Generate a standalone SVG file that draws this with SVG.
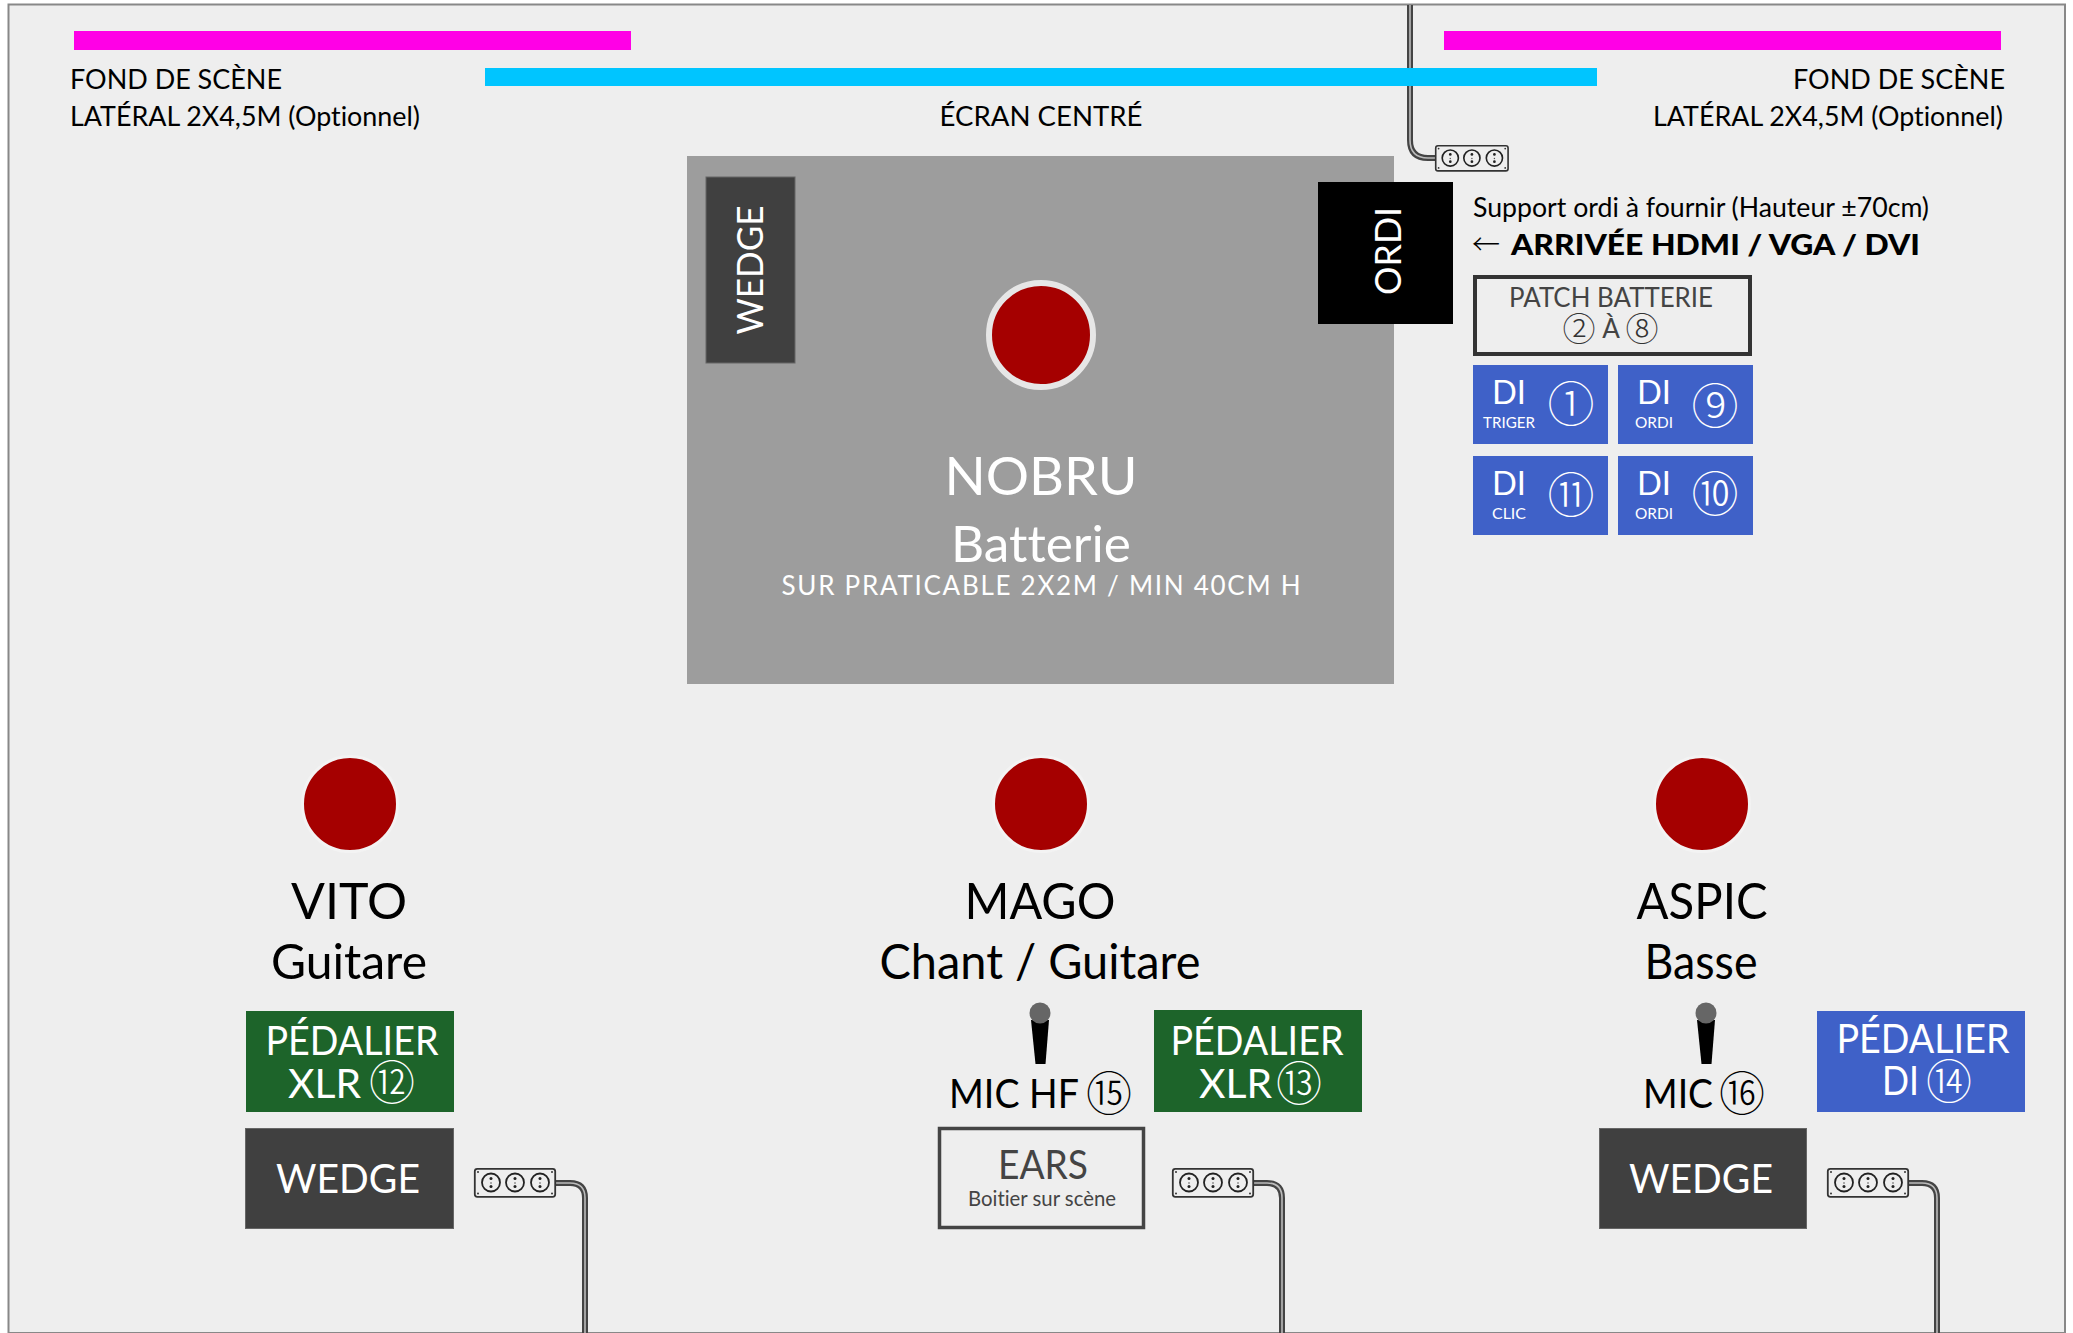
<svg xmlns="http://www.w3.org/2000/svg" xmlns:xlink="http://www.w3.org/1999/xlink" width="2073" height="1333" viewBox="0 0 2073 1333">
<style>
text{font-family:"Lato","Noto Sans",sans-serif;fill:#000;font-variant-ligatures:none}
.w{fill:#fff}.g{fill:#444}
.m{text-anchor:middle}.e{text-anchor:end}
.n{font-family:"Noto Sans CJK JP",sans-serif;text-anchor:middle;font-weight:300}
.cable-o{fill:none;stroke:#444;stroke-width:6}
.cable-i{fill:none;stroke:#bbb;stroke-width:1.6}
.seat{fill:#a50000;stroke:#f3f3f3;stroke-width:3}
.blue{fill:#3f61c8}.green{fill:#1d642a}.wedge{fill:#404040;stroke:#666;stroke-width:1}
</style>
<defs>
<g id="socket"><circle r="9" fill="none" stroke="#222" stroke-width="1.8"/><circle cy="-4" r="1.5" fill="#222"/><circle cy="0.5" r="0.8" fill="#555"/><circle cy="4" r="1.5" fill="#222"/></g>
<g id="strip"><rect x="0.8" y="0.8" width="80.4" height="28" rx="2.5" fill="#eee" stroke="#333" stroke-width="1.8"/><circle cx="4" cy="4" r="1" fill="#333"/><circle cx="78" cy="4" r="1" fill="#333"/><circle cx="4" cy="25.5" r="1" fill="#333"/><circle cx="78" cy="25.5" r="1" fill="#333"/><use xlink:href="#socket" href="#socket" x="17" y="14.5"/><use xlink:href="#socket" href="#socket" x="41" y="14.5"/><use xlink:href="#socket" href="#socket" x="66" y="14.5"/></g>
<g id="mic"><path d="M-9 7 L9 7 L5.500 51 L-4.500 51 Z" fill="#000"/><ellipse cx="0" cy="0" rx="10.500" ry="10.500" fill="#666"/></g>
</defs>
<rect id="outside" width="2073" height="1333" fill="#fff"/>
<g id="stage"><path d="M8.500 1333V4.500H2065V1333Z" fill="#eeeeee" stroke="#888" stroke-width="2"/></g>

<g id="connectors">
<path class="cable-o" d="M1410 5V140Q1410 158 1428 158H1436"/><path class="cable-i" d="M1410 5V140Q1410 158 1428 158H1436"/>
<path class="cable-o" d="M555 1183H570Q585 1183 585 1198V1333"/><path class="cable-i" d="M555 1183H570Q585 1183 585 1198V1333"/>
<path class="cable-o" d="M1253 1183H1267Q1282 1183 1282 1198V1333"/><path class="cable-i" d="M1253 1183H1267Q1282 1183 1282 1198V1333"/>
<path class="cable-o" d="M1908 1183H1922Q1937 1183 1937 1198V1333"/><path class="cable-i" d="M1908 1183H1922Q1937 1183 1937 1198V1333"/>
</g>

<g id="fond-gauche"><rect x="74" y="31" width="557" height="19" fill="#ff00e6"/>
<text x="70" y="89" font-size="26" textLength="212" lengthAdjust="spacingAndGlyphs">FOND DE SCÈNE</text>
<text x="70" y="126" font-size="26" textLength="350" lengthAdjust="spacingAndGlyphs">LATÉRAL 2X4,5M (Optionnel)</text></g>
<g id="fond-droit"><rect x="1444" y="31" width="557" height="19" fill="#ff00e6"/>
<text x="2005" y="89" font-size="26" class="e" textLength="212" lengthAdjust="spacingAndGlyphs">FOND DE SCÈNE</text>
<text x="2003" y="126" font-size="26" class="e" textLength="350" lengthAdjust="spacingAndGlyphs">LATÉRAL 2X4,5M (Optionnel)</text></g>
<g id="ecran"><rect x="485" y="68" width="1112" height="18" fill="#00c5ff"/>
<text x="1041" y="126" font-size="26" class="m" textLength="203" lengthAdjust="spacingAndGlyphs">ÉCRAN CENTRÉ</text></g>

<g id="nobru"><rect x="687" y="156" width="707" height="528" fill="#9d9d9d"/>
<circle cx="1041" cy="335" r="52" fill="#a50000" stroke="#e6e6e6" stroke-width="6"/>
<text x="1041" y="495" font-size="52" class="m w" textLength="193" lengthAdjust="spacingAndGlyphs">NOBRU</text>
<text x="1041" y="562" font-size="50" class="m w" textLength="180" lengthAdjust="spacingAndGlyphs">Batterie</text>
<text x="1041" y="595" font-size="26" class="m w" textLength="519" lengthAdjust="spacing">SUR PRATICABLE 2X2M / MIN 40CM H</text></g>
<g id="wedge-batterie"><rect x="706" y="177" width="89" height="186" class="wedge"/>
<text transform="translate(763 270) rotate(-90)" font-size="36" class="m w" textLength="129" lengthAdjust="spacingAndGlyphs">WEDGE</text></g>
<g id="ordi"><rect x="1318" y="182" width="135" height="142" fill="#000"/>
<text transform="translate(1401 251) rotate(-90)" font-size="36" class="m w" textLength="88" lengthAdjust="spacingAndGlyphs">ORDI</text></g>
<g id="multi-haut"><use xlink:href="#strip" href="#strip" transform="translate(1435 145) scale(.9)"/></g>

<g id="support"><text x="1473" y="217" font-size="27" textLength="456" lengthAdjust="spacingAndGlyphs">Support ordi à fournir (Hauteur ±70cm)</text>
<text x="1472" y="255" font-size="28" class="n" style="text-anchor:start">←</text>
<text x="1511" y="255" font-size="29" font-weight="900" textLength="409" lengthAdjust="spacingAndGlyphs">ARRIVÉE HDMI / VGA / DVI</text></g>

<g id="patch"><rect x="1475" y="277" width="275" height="77" fill="#eee" stroke="#333" stroke-width="4"/>
<text x="1611" y="307" font-size="26" class="m g" textLength="204" lengthAdjust="spacingAndGlyphs">PATCH BATTERIE</text>
<text x="1579" y="341" font-size="33" class="n" style="fill:#333">②</text>
<text x="1611" y="338" font-size="26" class="m g">À</text>
<text x="1642" y="341" font-size="33" class="n" style="fill:#333">⑧</text></g>

<g id="di-1"><rect x="1473" y="365" width="135" height="79" class="blue"/>
<text x="1509" y="404" font-size="33" class="m w" textLength="34" lengthAdjust="spacingAndGlyphs">DI</text>
<text x="1509" y="428" font-size="15" class="m w" textLength="52" lengthAdjust="spacingAndGlyphs">TRIGER</text>
<text x="1571" y="421" font-size="47" class="n w">①</text></g>
<g id="di-9"><rect x="1618" y="365" width="135" height="79" class="blue"/>
<text x="1654" y="404" font-size="33" class="m w" textLength="34" lengthAdjust="spacingAndGlyphs">DI</text>
<text x="1654" y="428" font-size="15" class="m w" textLength="38" lengthAdjust="spacingAndGlyphs">ORDI</text>
<text x="1715" y="423" font-size="47" class="n w">⑨</text></g>
<g id="di-11"><rect x="1473" y="456" width="135" height="79" class="blue"/>
<text x="1509" y="495" font-size="33" class="m w" textLength="34" lengthAdjust="spacingAndGlyphs">DI</text>
<text x="1509" y="519" font-size="15" class="m w" textLength="34" lengthAdjust="spacingAndGlyphs">CLIC</text>
<text x="1571" y="512" font-size="47" class="n w">⑪</text></g>
<g id="di-10"><rect x="1618" y="456" width="135" height="79" class="blue"/>
<text x="1654" y="495" font-size="33" class="m w" textLength="34" lengthAdjust="spacingAndGlyphs">DI</text>
<text x="1654" y="519" font-size="15" class="m w" textLength="38" lengthAdjust="spacingAndGlyphs">ORDI</text>
<text x="1715" y="511" font-size="47" class="n w">⑩</text></g>

<g id="vito"><circle cx="350" cy="804" r="47.500" class="seat"/>
<text x="349" y="919" font-size="51" class="m" textLength="116" lengthAdjust="spacingAndGlyphs">VITO</text>
<text x="349" y="979" font-size="49" class="m" textLength="156" lengthAdjust="spacingAndGlyphs">Guitare</text></g>
<g id="pedalier-12"><rect x="246" y="1011" width="208" height="101" class="green"/>
<text x="352" y="1055" font-size="40" class="m w" textLength="173" lengthAdjust="spacingAndGlyphs">PÉDALIER</text>
<text x="288" y="1098" font-size="40" class="w" textLength="73" lengthAdjust="spacingAndGlyphs">XLR</text>
<text x="392" y="1099" font-size="46" class="n w">⑫</text></g>
<g id="wedge-vito"><rect x="245.500" y="1128.500" width="208" height="100" class="wedge"/>
<text x="348" y="1193" font-size="40" class="m w" textLength="144" lengthAdjust="spacingAndGlyphs">WEDGE</text></g>
<g id="multi-vito"><use xlink:href="#strip" href="#strip" transform="translate(474 1168)"/></g>

<g id="mago"><circle cx="1041" cy="804" r="47.500" class="seat"/>
<text x="1040" y="919" font-size="51" class="m" textLength="151" lengthAdjust="spacingAndGlyphs">MAGO</text>
<text x="1040" y="979" font-size="49" class="m" textLength="321" lengthAdjust="spacingAndGlyphs">Chant / Guitare</text></g>
<g id="mic-15"><use xlink:href="#mic" href="#mic" x="1040" y="1013"/>
<text x="949" y="1108" font-size="40" textLength="130" lengthAdjust="spacingAndGlyphs">MIC HF</text>
<text x="1109" y="1110" font-size="46" class="n">⑮</text></g>
<g id="pedalier-13"><rect x="1154" y="1010" width="208" height="102" class="green"/>
<text x="1257" y="1055" font-size="40" class="m w" textLength="173" lengthAdjust="spacingAndGlyphs">PÉDALIER</text>
<text x="1199" y="1098" font-size="40" class="w" textLength="73" lengthAdjust="spacingAndGlyphs">XLR</text>
<text x="1299" y="1100" font-size="46" class="n w">⑬</text></g>
<g id="ears"><rect x="939.500" y="1128.500" width="204" height="99" fill="#eee" stroke="#444" stroke-width="3.500"/>
<text x="1043" y="1179" font-size="40" class="m g" textLength="90" lengthAdjust="spacingAndGlyphs">EARS</text>
<text x="1042" y="1206" font-size="21" class="m g" textLength="148" lengthAdjust="spacingAndGlyphs">Boitier sur scène</text></g>
<g id="multi-mago"><use xlink:href="#strip" href="#strip" transform="translate(1172 1168)"/></g>

<g id="aspic"><circle cx="1702" cy="804" r="47.500" class="seat"/>
<text x="1702" y="919" font-size="51" class="m" textLength="131" lengthAdjust="spacingAndGlyphs">ASPIC</text>
<text x="1701" y="979" font-size="49" class="m" textLength="113" lengthAdjust="spacingAndGlyphs">Basse</text></g>
<g id="mic-16"><use xlink:href="#mic" href="#mic" x="1706" y="1013"/>
<text x="1643" y="1108" font-size="40" textLength="70" lengthAdjust="spacingAndGlyphs">MIC</text>
<text x="1742" y="1110" font-size="46" class="n">⑯</text></g>
<g id="pedalier-14"><rect x="1817" y="1011" width="208" height="101" class="blue"/>
<text x="1923" y="1053" font-size="40" class="m w" textLength="173" lengthAdjust="spacingAndGlyphs">PÉDALIER</text>
<text x="1882" y="1095" font-size="40" class="w" textLength="37" lengthAdjust="spacingAndGlyphs">DI</text>
<text x="1949" y="1098" font-size="46" class="n w">⑭</text></g>
<g id="wedge-aspic"><rect x="1599.500" y="1128.500" width="207" height="100" class="wedge"/>
<text x="1701" y="1193" font-size="40" class="m w" textLength="144" lengthAdjust="spacingAndGlyphs">WEDGE</text></g>
<g id="multi-aspic"><use xlink:href="#strip" href="#strip" transform="translate(1827 1168)"/></g>
</svg>
